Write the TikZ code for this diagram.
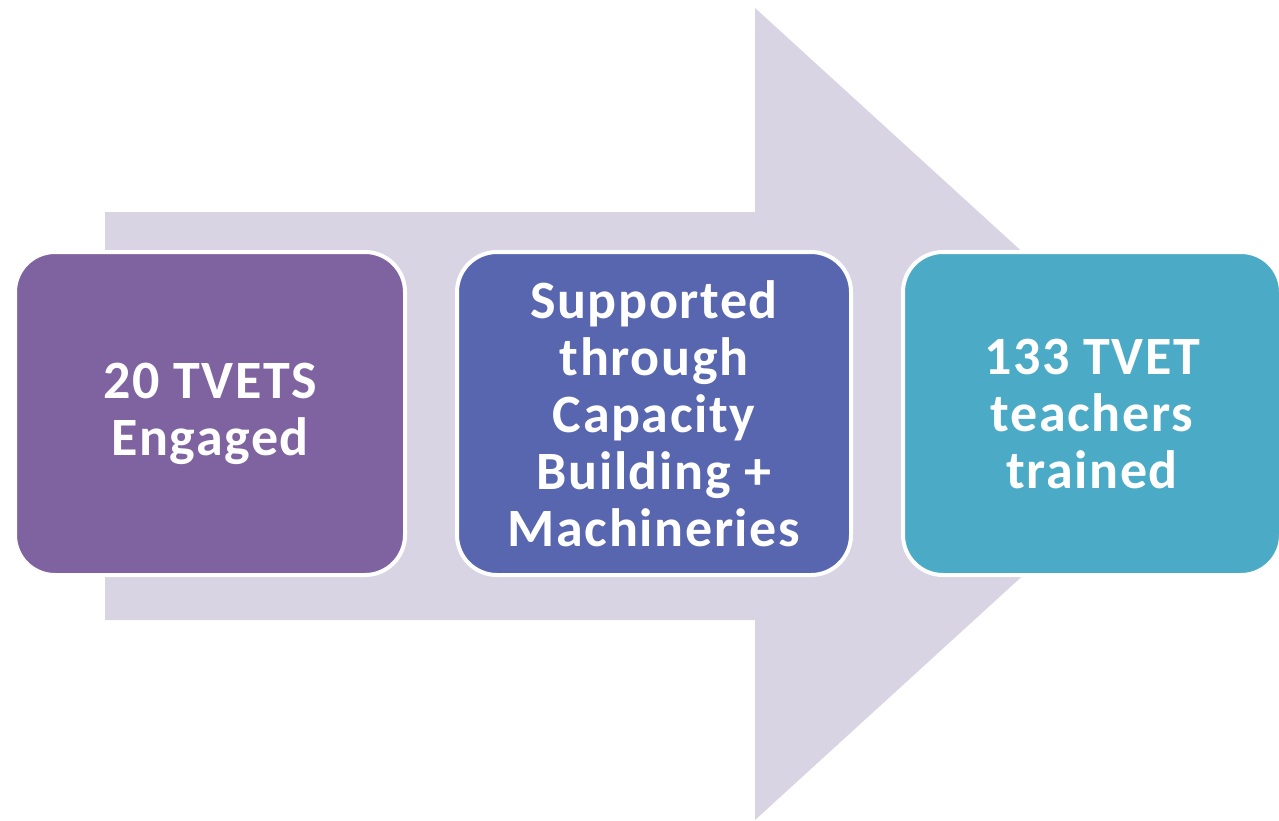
\documentclass[tikz,border=0pt]{standalone}
\usepackage{fontspec}
\setmainfont{Carlito}[LetterSpace=3]
\definecolor{arrowfill}{HTML}{D8D4E3}
\definecolor{boxA}{HTML}{7F63A0}
\definecolor{boxB}{HTML}{5866B0}
\definecolor{boxC}{HTML}{4BABC6}
\tikzset{
  stagebox/.style={draw=white, line width=4pt, rounded corners=40pt,
    minimum height=323pt, inner sep=0pt, align=center, text=white,
    font=\fontsize{54}{57}\selectfont\bfseries},
}
\begin{document}
\begin{tikzpicture}[x=1pt,y=-1pt]
\useasboundingbox (0,0) rectangle (1279,820);
\fill[white] (0,0) rectangle (1279,820);
% big arrow
\fill[arrowfill] (105,212) -- (755,212) -- (755,8) -- (1200,414) -- (755,820) -- (755,620) -- (105,620) -- cycle;
% boxes
\node[stagebox, fill=boxA, minimum width=390pt] (b1) at (210,413.5) {20 TVETS\\Engaged};
\node[stagebox, fill=boxB, minimum width=394pt] (b2) at (654,413.5) {Supported\\through\\Capacity\\Building +\\Machineries};
\node[stagebox, fill=boxC, minimum width=378pt] (b3) at (1092,413.5) {133 TVET\\teachers\\trained};
\end{tikzpicture}
\end{document}
